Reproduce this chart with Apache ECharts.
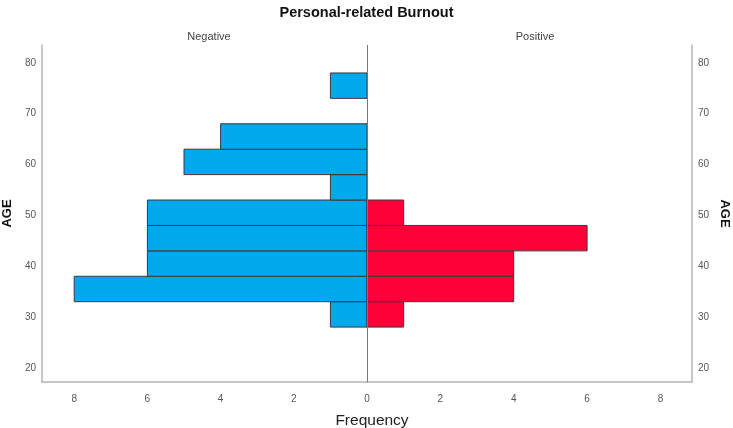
<!DOCTYPE html>
<html>
<head>
<meta charset="utf-8">
<script src="https://cdn.jsdelivr.net/npm/echarts@6/dist/echarts.min.js"></script>
<style>
html,body{margin:0;padding:0;background:#fff;}
#chart{width:733px;height:428px;}
</style>
</head>
<body>
<div id="chart"></div>
<script>
// Age bins (lower edge, width 5)
var binStarts = [28, 33, 38, 43, 48, 53, 58, 63, 68, 73];
var binWidth = 5;
var negativeFreq = [1, 8, 6, 6, 6, 1, 5, 4, 0, 1];
var positiveFreq = [1, 4, 4, 6, 1, 0, 0, 0, 0, 0];
var ageTicks = [20, 30, 40, 50, 60, 70, 80];
var freqTicksLeft = [0, 2, 4, 6, 8];
var freqTicksRight = [2, 4, 6, 8];

var FONT = 'Liberation Sans, Arial, sans-serif';

function toData(freqs) {
  var out = [];
  for (var i = 0; i < binStarts.length; i++) {
    if (freqs[i] > 0) out.push([binStarts[i], binStarts[i] + binWidth, freqs[i]]);
  }
  return out;
}

function makeRender(color) {
  return function (params, api) {
    var lo = api.value(0), hi = api.value(1), v = api.value(2);
    var p1 = api.coord([0, lo]);
    var p2 = api.coord([v, hi]);
    var x = Math.min(p1[0], p2[0]), y = Math.min(p1[1], p2[1]);
    return {
      type: 'rect',
      shape: { x: x, y: y, width: Math.abs(p2[0] - p1[0]), height: Math.abs(p2[1] - p1[1]) },
      style: { fill: color, stroke: '#3a3a3a', lineWidth: 1 }
    };
  };
}

var axisLineStyle = { color: '#b4b4b4', width: 1.5 };
var labelStyle = { color: '#555', fontSize: 10, fontFamily: FONT };

var chart = echarts.init(document.getElementById('chart'));
chart.setOption({
  animation: false,
  backgroundColor: '#fff',
  title: [
    { text: 'Personal-related Burnout', left: 'center', top: 0,
      textStyle: { fontSize: 14.5, fontWeight: 'bold', color: '#111', fontFamily: FONT } },
    { text: 'Negative', left: 204, top: 26, textAlign: 'center',
      textStyle: { fontSize: 11, fontWeight: 'normal', color: '#444', fontFamily: FONT } },
    { text: 'Positive', left: 530, top: 26, textAlign: 'center',
      textStyle: { fontSize: 11, fontWeight: 'normal', color: '#444', fontFamily: FONT } },
    { text: 'Frequency', left: 367, top: 408, textAlign: 'center',
      textStyle: { fontSize: 15.5, fontWeight: 'normal', color: '#222', fontFamily: FONT } }
  ],
  grid: [
    { left: 41, width: 326, top: 45, height: 337 },
    { left: 367, width: 325, top: 45, height: 337 }
  ],
  xAxis: [
    { type: 'value', gridIndex: 0, min: 0, max: 8.88, inverse: true,
      axisLine: { show: true, onZero: false, lineStyle: axisLineStyle },
      axisTick: { show: false }, splitLine: { show: false },
      axisLabel: Object.assign({ customValues: freqTicksLeft, margin: 12 }, labelStyle) },
    { type: 'value', gridIndex: 1, min: 0, max: 8.86,
      axisLine: { show: true, onZero: false, lineStyle: axisLineStyle },
      axisTick: { show: false }, splitLine: { show: false },
      axisLabel: Object.assign({ customValues: freqTicksRight, margin: 12 }, labelStyle) }
  ],
  yAxis: [
    { type: 'value', gridIndex: 0, position: 'left', min: 17.2, max: 83.5,
      name: 'AGE', nameLocation: 'middle', nameGap: 28, nameRotate: 90,
      nameTextStyle: { fontSize: 13, fontWeight: 'bold', color: '#111', fontFamily: FONT },
      axisLine: { show: true, onZero: false, lineStyle: axisLineStyle },
      axisTick: { show: false }, splitLine: { show: false },
      axisLabel: Object.assign({ customValues: ageTicks, margin: 6 }, labelStyle) },
    { type: 'value', gridIndex: 1, position: 'right', min: 17.2, max: 83.5,
      name: 'AGE', nameLocation: 'middle', nameGap: 26, nameRotate: -90,
      nameTextStyle: { fontSize: 13, fontWeight: 'bold', color: '#111', fontFamily: FONT },
      axisLine: { show: true, onZero: false, lineStyle: axisLineStyle },
      axisTick: { show: false }, splitLine: { show: false },
      axisLabel: Object.assign({ customValues: ageTicks, margin: 6 }, labelStyle) }
  ],
  series: [
    { type: 'custom', xAxisIndex: 0, yAxisIndex: 0, data: toData(negativeFreq),
      renderItem: makeRender('#00A8EC'), silent: true, z: 2 },
    { type: 'custom', xAxisIndex: 1, yAxisIndex: 1, data: toData(positiveFreq),
      renderItem: makeRender('#FF0038'), silent: true, z: 2,
      markLine: { silent: true, symbol: 'none', label: { show: false },
        lineStyle: { color: '#777', width: 1, type: 'solid' },
        data: [{ xAxis: 0 }], z: 5 } }
  ]
});
</script>
</body>
</html>
